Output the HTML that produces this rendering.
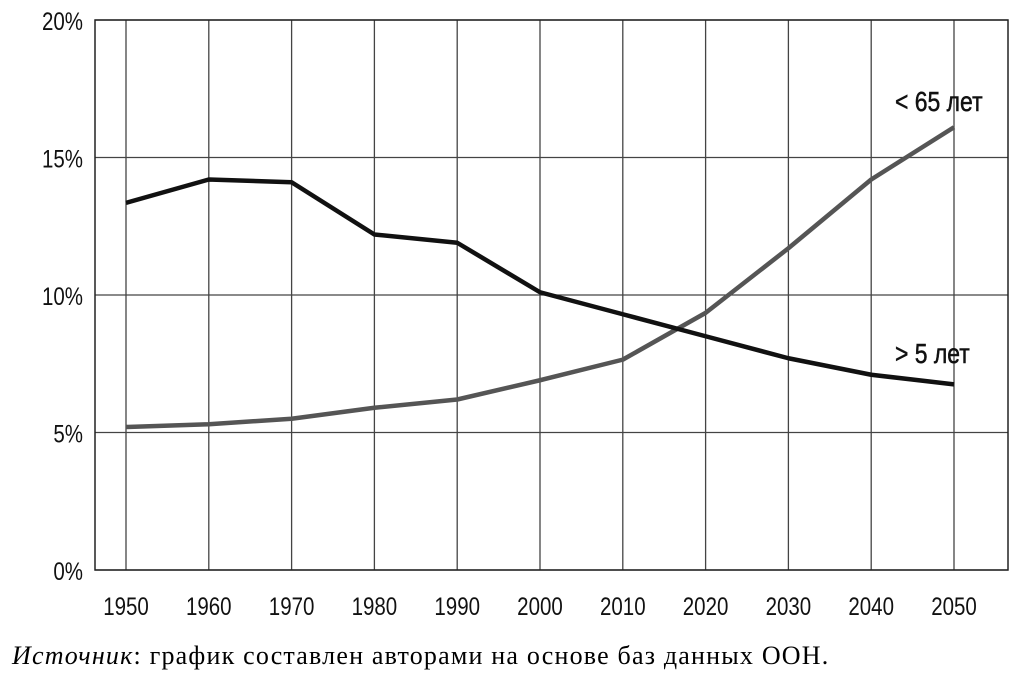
<!DOCTYPE html>
<html><head><meta charset="utf-8"><style>
body{margin:0;background:#fff;width:1020px;height:681px;overflow:hidden}
svg text{font-family:"Liberation Sans","DejaVu Sans",sans-serif}
</style></head><body>
<svg width="1020" height="681">
<g id="grid"></g><g id="series"></g><g id="labels"></g>
<text x="12" y="664" font-size="26" letter-spacing="1.2" style="font-family:'Liberation Serif','DejaVu Serif',serif"><tspan font-style="italic">Источник</tspan>: график составлен авторами на основе баз данных ООН.</text>
</svg>
<script>
const years=[1950,1960,1970,1980,1990,2000,2010,2020,2030,2040,2050];
const under5=[13.35,14.2,14.1,12.2,11.9,10.1,9.3,8.5,7.7,7.1,6.75];
const over65=[5.2,5.3,5.5,5.9,6.2,6.9,7.65,9.35,11.7,14.2,16.1];
const yTicks=[0,5,10,15,20];
const yTickLabels=["0%","5%","10%","15%","20%"];
const L=95,R=1008,T=20,B=570;
const x=yr=>126+(yr-1950)*8.28;
const y=v=>B-(v/20)*(B-T);
const ns="http://www.w3.org/2000/svg";
function mk(tag,attrs,parent,txt){const e=document.createElementNS(ns,tag);for(const k in attrs)e.setAttribute(k,attrs[k]);if(txt!==undefined)e.textContent=txt;document.getElementById(parent).appendChild(e);return e;}
yTicks.forEach((t,i)=>{
 const g=mk('line',{x1:L,x2:R,y1:y(t),y2:y(t),stroke:'#444','stroke-width':1.3},'grid');
 
 
 const tx=mk('text',{x:83/0.82,y:y(t)+10,'text-anchor':'end','font-size':25,fill:'#111',transform:'scale(0.82,1)'},'labels',yTickLabels[i]);
 
 
});
years.forEach(yr=>{
 const g=mk('line',{x1:x(yr),x2:x(yr),y1:T,y2:B,stroke:'#444','stroke-width':1.3},'grid');
 
 
 const tx=mk('text',{x:x(yr)/0.82,y:615,'text-anchor':'middle','font-size':25,fill:'#111',transform:'scale(0.82,1)'},'labels',String(yr));
 
 
});
const fr=mk('rect',{x:L,y:T,width:R-L,height:B-T,fill:'none',stroke:'#222','stroke-width':1.5},'grid');


function line(vals,color,name){
 const p=mk('polyline',{points:years.map((yr,i)=>x(yr)+','+y(vals[i])).join(' '),fill:'none',stroke:color,'stroke-width':4.5,'stroke-linejoin':'round'},'series');
 
 
}
line(over65,'#555','line-over-65');
line(under5,'#111','line-under-5');
const a=mk('text',{x:895/0.82,y:111,'font-size':28,fill:'#111',stroke:'#111','stroke-width':0.5,transform:'scale(0.82,1)'},'labels','< 65 лет');


const b=mk('text',{x:895/0.82,y:363,'font-size':28,fill:'#111',stroke:'#111','stroke-width':0.5,transform:'scale(0.82,1)'},'labels','> 5 лет');


</script>
</body></html>
